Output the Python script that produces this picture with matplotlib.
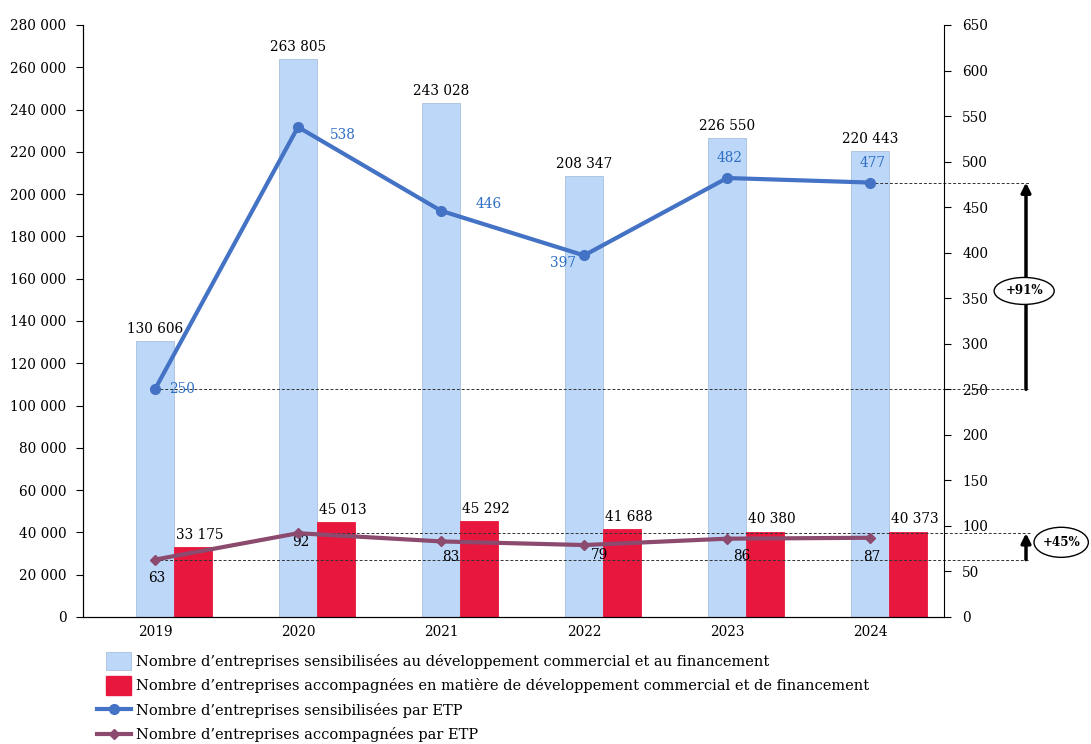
from matplotlib import pyplot as plt
from matplotlib.patches import Patch, Rectangle, Ellipse
from matplotlib.lines import Line2D
from matplotlib.legend_handler import HandlerPatch
import numpy as np

years = ['2019', '2020', '2021', '2022', '2023', '2024']
sensibilisees = [130606, 263805, 243028, 208347, 226550, 220443]
accompagnees = [33175, 45013, 45292, 41688, 40380, 40373]
sens_etp = [250, 538, 446, 397, 482, 477]
acc_etp = [63, 92, 83, 79, 86, 87]

plt.rcParams['font.family'] = ['DejaVu Serif']
plt.rcParams['font.size'] = 9.8

def fmt(v):
    return f"{v:,}".replace(",", " ")

fig = plt.figure(figsize=(10.91, 7.44), dpi=100)
ax = fig.add_axes([0.0761, 0.1707, 0.7892, 0.7957])
ax2 = ax.twinx()

x = np.arange(len(years))
w = 0.265
ax.bar(x, sensibilisees, w, color='#BDD7F8', edgecolor='#A9C0DC', linewidth=0.6)
ax.bar(x + w, accompagnees, w, color='#E8173D', edgecolor='#E8173D', linewidth=0.6)
for i in range(len(x)):
    ax.text(x[i], sensibilisees[i] + 2500, fmt(sensibilisees[i]), ha='center', va='bottom')
    ax.text(x[i] + w + 0.05, accompagnees[i] + 2500, fmt(accompagnees[i]), ha='center', va='bottom')

ax.set_xlim(-0.503, 5.517)
ax.set_ylim(0, 280000)
ax.set_yticks(np.arange(0, 280001, 20000))
ax.set_yticklabels([fmt(v) for v in range(0, 280001, 20000)])
ax.set_xticks(x)
ax.set_xticklabels(years)
ax.tick_params(axis='x', length=0, pad=6)
ax.tick_params(axis='y', length=5, direction='out', pad=7)

ax2.set_ylim(0, 650)
ax2.set_yticks(np.arange(0, 651, 50))
ax2.tick_params(axis='y', length=5, direction='out', pad=8)
for a in (ax, ax2):
    a.spines['top'].set_visible(False)
ax.spines['right'].set_visible(False)

# lignes ETP
ax2.plot(x, sens_etp, color='#4472C4', linewidth=3, marker='o', markersize=7, zorder=5)
ax2.plot(x, acc_etp, color='#8B4A6E', linewidth=3, marker='D', markersize=5, zorder=5)

# étiquettes des lignes (décalage x, valeur du centre)
blue_lab = '#2E6FC4'
pos_blue = [(0.19, 250), (0.31, 529), (0.33, 453), (-0.15, 389), (0.02, 504), (0.02, 498)]
for i, (dx, yv) in enumerate(pos_blue):
    ax2.text(x[i] + dx, yv, str(sens_etp[i]), color=blue_lab, ha='center', va='center')
pos_acc = [(0.01, 43), (0.02, 82), (0.07, 66), (0.11, 68), (0.1, 67), (0.01, 66)]
for i, (dx, yv) in enumerate(pos_acc):
    ax2.text(x[i] + dx, yv, str(acc_etp[i]), ha='center', va='center')

# pointillés de référence
x_end = 6.119
for v, xs in [(477, 5.0), (250, 0.0), (92, 1.0), (63, 0.0)]:
    ax2.plot([xs, x_end], [v, v], color='#333333', linewidth=0.7, linestyle=(0, (3, 2)),
             clip_on=False, zorder=1)

# flèches d'évolution
xa = 6.09
for lo, hi in [(250, 477), (63, 92)]:
    ax2.annotate('', xy=(xa, hi), xytext=(xa, lo), annotation_clip=False,
                 arrowprops=dict(arrowstyle='-|>', color='black', lw=2.5, mutation_scale=14,
                                 shrinkA=0, shrinkB=0))
for xc, yc, ew, eh, txt in [(6.077, 358, 0.42, 29.6, '+91%'), (6.336, 82, 0.38, 33, '+45%')]:
    ax2.add_patch(Ellipse((xc, yc), ew, eh, facecolor='white', edgecolor='black', lw=1,
                          clip_on=False, zorder=6))
    ax2.text(xc, yc, txt, ha='center', va='center', fontsize=8.6, fontweight='bold',
             clip_on=False, zorder=7)


def small_rect(legend, orig_handle, xdescent, ydescent, width, height, fontsize):
    return Rectangle((-xdescent + 0.26 * width, -ydescent - 0.2 * height), 0.74 * width, 1.4 * height)


handles = [
    Patch(facecolor='#BDD7F8', edgecolor='#A9C0DC', linewidth=0.6),
    Patch(facecolor='#E8173D', edgecolor='#E8173D'),
    Line2D([], [], color='#4472C4', linewidth=3, marker='o', markersize=7),
    Line2D([], [], color='#8B4A6E', linewidth=3, marker='D', markersize=5),
]
labels = [
    "Nombre d’entreprises sensibilisées au développement commercial et au financement",
    "Nombre d’entreprises accompagnées en matière de développement commercial et de financement",
    "Nombre d’entreprises sensibilisées par ETP",
    "Nombre d’entreprises accompagnées par ETP",
]
fig.legend(handles, labels, loc='upper left', bbox_to_anchor=(0.0889, 0.121),
           frameon=False, fontsize=10.5, handlelength=2.3, handleheight=1.0, labelspacing=0.65,
           handletextpad=0.35, borderaxespad=0, borderpad=0,
           handler_map={Patch: HandlerPatch(patch_func=small_rect)})

fig.savefig('out.png', dpi=100)
